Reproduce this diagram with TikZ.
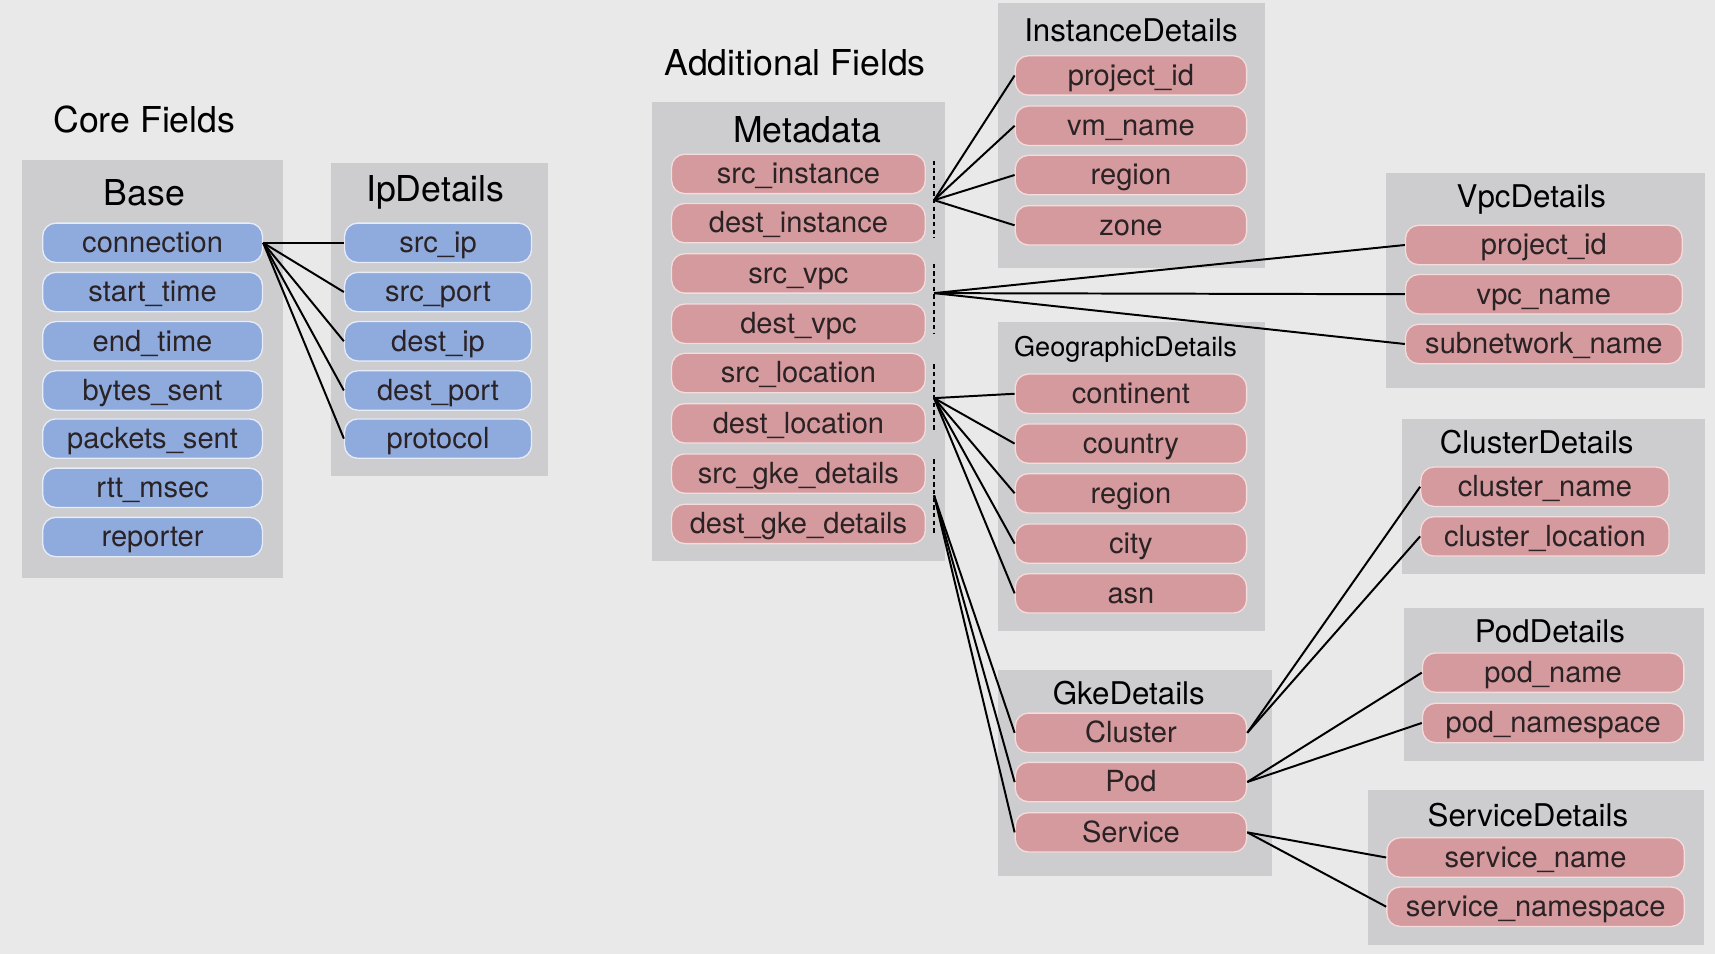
\documentclass[tikz,border=0pt]{standalone}
\usepackage{fontspec}
\setmainfont{TeX Gyre Heros}
\definecolor{bggray}{HTML}{E9E9E9}
\definecolor{panelgray}{HTML}{CDCDCF}
\definecolor{coreblue}{HTML}{8FABDE}
\definecolor{coreline}{HTML}{E6ECF8}
\definecolor{extrapink}{HTML}{D59A9E}
\definecolor{extraline}{HTML}{F4DCDC}
\definecolor{fieldtext}{HTML}{2A2224}

\begin{document}
\begin{tikzpicture}[x=0.5pt, y=-0.5pt,
    panel/.style={fill=panelgray},
    field/.style={rounded corners=6pt, line width=0.6pt, minimum height=18pt, inner sep=0pt,
        text height=9pt, text depth=0pt, text=fieldtext, font=\fontsize{13.3}{15}\selectfont},
    core/.style={field, draw=coreline, fill=coreblue},
    extra/.style={field, draw=extraline, fill=extrapink},
    head/.style={font=\fontsize{16.3}{19}\selectfont},
    subhead/.style={font=\fontsize{14.3}{16}\selectfont},
    link/.style={line width=0.9pt},
    guide/.style={line width=1pt, dash pattern=on 2pt off 1.5pt}]

    \fill[bggray] (0,0) rectangle (1568,872);

    % core fields
    \node[head] (coretitle) at (132,109) {Core Fields};
    \fill[panel] (20,146) rectangle (259,528);
    \fill[panel] (303,149) rectangle (501,435);
    \node[head] (basetitle) at (132,176) {Base};
    \node[head] (iptitle) at (398,176) {IpDetails};

    \begin{scope}[every node/.append style={core, minimum width=100.5pt}]
        \node (connection) at (139.5,222) {connection};
        \node (start_time) at (139.5,267) {start\_time};
        \node (end_time) at (139.5,312) {end\_time};
        \node (bytes_sent) at (139.5,357) {bytes\_sent};
        \node (packets_sent) at (139.5,401) {packets\_sent};
        \node (rtt_msec) at (139.5,446) {rtt\_msec};
        \node (reporter) at (139.5,491) {reporter};
    \end{scope}

    \begin{scope}[every node/.append style={core, minimum width=85.5pt}]
        \node (src_ip) at (400.5,222) {src\_ip};
        \node (src_port) at (400.5,267) {src\_port};
        \node (dest_ip) at (400.5,312) {dest\_ip};
        \node (dest_port) at (400.5,357) {dest\_port};
        \node (protocol) at (400.5,401) {protocol};
    \end{scope}

    \draw[link] (connection.east) -- (src_ip.west);
    \draw[link] (connection.east) -- (src_port.west);
    \draw[link] (connection.east) -- (dest_ip.west);
    \draw[link] (connection.east) -- (dest_port.west);
    \draw[link] (connection.east) -- (protocol.west);

    % additional fields
    \node[head] (addtitle) at (727,57) {Additional Fields};
    \fill[panel] (596,93) rectangle (864,513);
    \fill[panel] (912,3) rectangle (1157,245);
    \fill[panel] (912,294) rectangle (1157,577);
    \fill[panel] (912,613) rectangle (1163,801);
    \fill[panel] (1267,158) rectangle (1559,355);
    \fill[panel] (1282,383) rectangle (1559,525);
    \fill[panel] (1284,556) rectangle (1558,696);
    \fill[panel] (1251,722) rectangle (1558,864);

    \node[head] (metatitle) at (738,119) {Metadata};
    \node[subhead] (insttitle) at (1034,28) {InstanceDetails};
    \node[subhead, font=\fontsize{12.4}{14}\selectfont] (geotitle) at (1029,319) {GeographicDetails};
    \node[subhead] (gketitle) at (1032,634) {GkeDetails};
    \node[subhead] (vpctitle) at (1400,182) {VpcDetails};
    \node[subhead] (clustertitle) at (1405,404) {ClusterDetails};
    \node[subhead] (podtitle) at (1417,577) {PodDetails};
    \node[subhead] (servicetitle) at (1397,745) {ServiceDetails};

    \begin{scope}[every node/.append style={extra, minimum width=116pt}]
        \node (src_instance) at (730,159) {src\_instance};
        \node (dest_instance) at (730,204) {dest\_instance};
        \node (src_vpc) at (730,250) {src\_vpc};
        \node (dest_vpc) at (730,296) {dest\_vpc};
        \node (src_location) at (730,341) {src\_location};
        \node (dest_location) at (730,387) {dest\_location};
        \node (src_gke) at (730,433) {src\_gke\_details};
        \node (dest_gke) at (730,479) {dest\_gke\_details};
    \end{scope}

    \begin{scope}[every node/.append style={extra, minimum width=105.75pt}]
        \node (inst_project_id) at (1034,69) {project\_id};
        \node (inst_vm_name) at (1034,115) {vm\_name};
        \node (inst_region) at (1034,160) {region};
        \node (inst_zone) at (1034,206) {zone};
        \node (geo_continent) at (1034,360) {continent};
        \node (geo_country) at (1034,405.6) {country};
        \node (geo_region) at (1034,451) {region};
        \node (geo_city) at (1034,497) {city};
        \node (geo_asn) at (1034,542.5) {asn};
        \node (gke_cluster) at (1034,670) {Cluster};
        \node (gke_pod) at (1034,715) {Pod};
        \node (gke_service) at (1034,761) {Service};
    \end{scope}

    \node[extra, minimum width=126.5pt] (vpc_project_id) at (1411.5,224) {project\_id};
    \node[extra, minimum width=126.5pt] (vpc_name) at (1411.5,269) {vpc\_name};
    \node[extra, minimum width=126.5pt] (subnetwork_name) at (1411.5,314.5) {subnetwork\_name};
    \node[extra, minimum width=113.5pt] (cluster_name) at (1412.5,445) {cluster\_name};
    \node[extra, minimum width=113.5pt] (cluster_location) at (1412.5,490.4) {cluster\_location};
    \node[extra, minimum width=119.5pt] (pod_name) at (1420,615) {pod\_name};
    \node[extra, minimum width=119.5pt] (pod_namespace) at (1420,661) {pod\_namespace};
    \node[extra, minimum width=136pt] (service_name) at (1404,784) {service\_name};
    \node[extra, minimum width=136pt] (service_namespace) at (1404,829) {service\_namespace};

    % dotted pairs
    \draw[guide] (854,147) -- (854,218);
    \draw[guide] (854,241) -- (854,305);
    \draw[guide] (854,333) -- (854,396);
    \draw[guide] (854,420) -- (854,490);
    \coordinate (instJ) at (854,183);
    \coordinate (vpcJ) at (854,268);
    \coordinate (locJ) at (854,364);
    \coordinate (gkeJ) at (854,453);

    \draw[link] (instJ) -- (inst_project_id.west);
    \draw[link] (instJ) -- (inst_vm_name.west);
    \draw[link] (instJ) -- (inst_region.west);
    \draw[link] (instJ) -- (inst_zone.west);

    \draw[link] (vpcJ) -- (vpc_project_id.west);
    \draw[link] (vpcJ) -- (vpc_name.west);
    \draw[link] (vpcJ) -- (subnetwork_name.west);

    \draw[link] (locJ) -- (geo_continent.west);
    \draw[link] (locJ) -- (geo_country.west);
    \draw[link] (locJ) -- (geo_region.west);
    \draw[link] (locJ) -- (geo_city.west);
    \draw[link] (locJ) -- (geo_asn.west);

    \draw[link] (gkeJ) -- (gke_cluster.west);
    \draw[link] (gkeJ) -- (gke_pod.west);
    \draw[link] (gkeJ) -- (gke_service.west);

    \draw[link] (gke_cluster.east) -- (cluster_name.west);
    \draw[link] (gke_cluster.east) -- (cluster_location.west);
    \draw[link] (gke_pod.east) -- (pod_name.west);
    \draw[link] (gke_pod.east) -- (pod_namespace.west);
    \draw[link] (gke_service.east) -- (service_name.west);
    \draw[link] (gke_service.east) -- (service_namespace.west);

\end{tikzpicture}
\end{document}
